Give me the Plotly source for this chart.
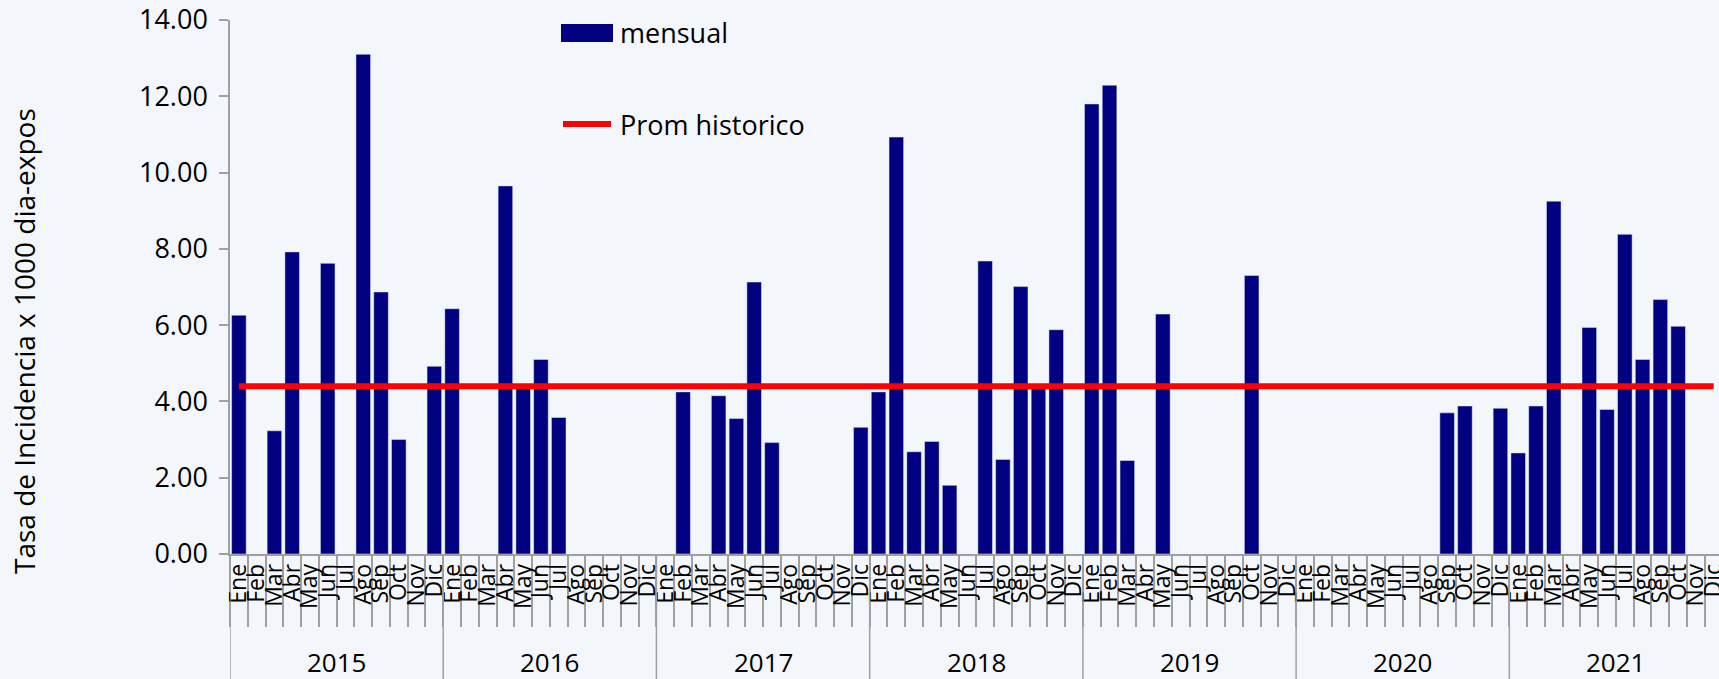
import plotly.graph_objects as go

# ---------------- data ----------------
months = ["Ene", "Feb", "Mar", "Abr", "May", "Jun", "Jul", "Ago", "Sep", "Oct", "Nov", "Dic"]
years = ["2015", "2016", "2017", "2018", "2019", "2020", "2021"]

mensual_2015 = [6.26, 0, 3.23, 7.92, 0, 7.62, 0, 13.10, 6.87, 3.00, 0, 4.92]
mensual_2016 = [6.43, 0, 0, 9.65, 4.35, 5.10, 3.58, 0, 0, 0, 0, 0]
mensual_2017 = [0, 4.25, 0, 4.15, 3.55, 7.13, 2.92, 0, 0, 0, 0, 3.32]
mensual_2018 = [4.25, 10.93, 2.68, 2.95, 1.80, 0, 7.68, 2.48, 7.01, 4.35, 5.88, 0]
mensual_2019 = [11.80, 12.29, 2.45, 0, 6.29, 0, 0, 0, 0, 7.30, 0, 0]
mensual_2020 = [0, 0, 0, 0, 0, 0, 0, 0, 3.70, 3.88, 0, 3.82]
mensual_2021 = [2.65, 3.88, 9.25, 0, 5.94, 3.79, 8.38, 5.10, 6.67, 5.97, 0, 0]

prom_historico = 4.40

series_by_year = [mensual_2015, mensual_2016, mensual_2017, mensual_2018,
                  mensual_2019, mensual_2020, mensual_2021]

# ---------------- build ----------------
keys, labels, values = [], [], []
for y, vals in zip(years, series_by_year):
    for m, v in zip(months, vals):
        keys.append(f"{m} {y}")
        labels.append(m)
        values.append(v)

W, H = 1719, 679
ML, MR, MT, MB = 230, 0, 20, 125
PW, PH = W - ML - MR, H - MT - MB


def px_x(px):
    return (px - ML) / PW


def px_y(py):
    return (H - MB - py) / PH


FONT = "Open Sans"
NAVY = "#000080"
RED = "#ff0000"
GRAY = "#a0a0a0"
BG = "#f3f6fb"

fig = go.Figure()
fig.add_trace(go.Bar(x=keys, y=values, name="mensual", marker_color=NAVY,
                     showlegend=False))
fig.add_trace(go.Scatter(x=keys, y=[prom_historico] * len(keys), mode="lines",
                         name="Prom historico", line=dict(color=RED, width=6),
                         showlegend=False))

shapes = []
# year dividers below the axis
for i in range(len(years) + 1):
    xb = 12 * i - 0.5
    shapes.append(dict(type="line", xref="x", yref="paper", x0=xb, x1=xb,
                       y0=0, y1=-MB / PH, line=dict(color=GRAY, width=1.5)))

# manual legend
shapes.append(dict(type="rect", xref="paper", yref="paper",
                   x0=px_x(561), x1=px_x(613), y0=px_y(42), y1=px_y(24),
                   fillcolor=NAVY, line=dict(width=0)))
shapes.append(dict(type="line", xref="paper", yref="paper",
                   x0=px_x(563), x1=px_x(611), y0=px_y(124), y1=px_y(124),
                   line=dict(color=RED, width=6)))

annotations = [
    dict(text="mensual", xref="paper", yref="paper", x=px_x(618), y=px_y(33),
         xanchor="left", yanchor="middle", showarrow=False,
         font=dict(family=FONT, size=27, color="black")),
    dict(text="Prom historico", xref="paper", yref="paper", x=px_x(618), y=px_y(124),
         xanchor="left", yanchor="middle", showarrow=False,
         font=dict(family=FONT, size=27, color="black")),
    dict(text="Tasa de Incidencia x 1000 dia-expos", xref="paper", yref="paper",
         x=px_x(24), y=px_y(341), xanchor="center", yanchor="middle",
         textangle=-90, showarrow=False,
         font=dict(family=FONT, size=28, color="black")),
]
for i, y in enumerate(years):
    annotations.append(dict(text=y, xref="x", yref="paper", x=12 * i + 5.5,
                            y=px_y(662), xanchor="center", yanchor="middle",
                            showarrow=False,
                            font=dict(family=FONT, size=26, color="black")))

fig.update_layout(
    width=W, height=H,
    margin=dict(l=ML, r=MR, t=MT, b=MB),
    paper_bgcolor=BG, plot_bgcolor=BG,
    bargap=0.18,
    showlegend=False,
    shapes=shapes,
    annotations=annotations,
    font=dict(family=FONT, color="black"),
)
fig.update_xaxes(
    type="category",
    tickmode="array", tickvals=keys, ticktext=labels,
    tickangle=-90,
    tickfont=dict(family=FONT, size=23, color="black"),
    ticks="outside", tickson="boundaries", ticklen=71, tickcolor=GRAY, tickwidth=1.5,
    ticklabelstandoff=-1,
    showline=True, linecolor=GRAY, linewidth=1.5,
    showgrid=False, zeroline=False,
    range=[-0.5, 83.3],
    automargin=False,
)
fig.update_yaxes(
    range=[0, 14], tickmode="linear", tick0=0, dtick=2, tickformat=".2f",
    tickfont=dict(family=FONT, size=27, color="black"),
    ticks="outside", ticklen=9, tickcolor=GRAY, tickwidth=1.5,
    ticklabelstandoff=6,
    showline=True, linecolor=GRAY, linewidth=1.5,
    showgrid=False, zeroline=False,
    automargin=False,
)

fig.write_html("out.html",
               config={"displayModeBar": False},
               post_script="document.body.style.margin='0';document.body.style.overflow='hidden';")
